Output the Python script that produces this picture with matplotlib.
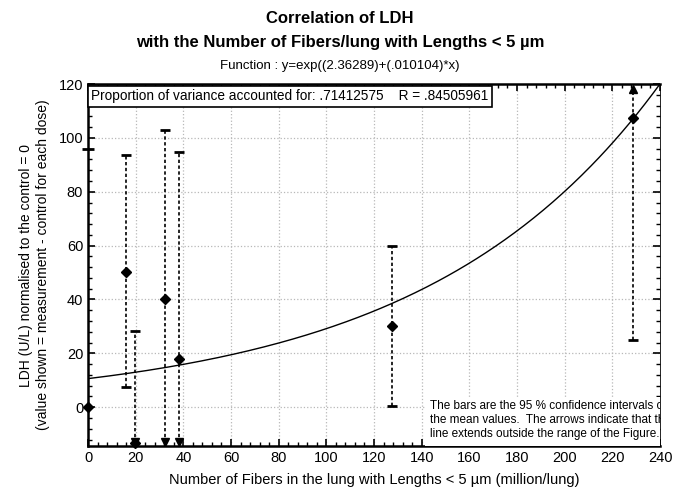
import numpy as np
import matplotlib
matplotlib.use("Agg")
import matplotlib.pyplot as plt
from matplotlib.ticker import MultipleLocator
from matplotlib.patches import Rectangle

plt.rcParams['font.family'] = ['Liberation Sans', 'DejaVu Sans']

# data
fibers = [0, 16.0, 19.9, 32.2, 38.3, 127.4, 228.6]
ldh = [0, 50.1, -13.2, 40.3, 18.0, 30.1, 107.3]
ci_low = [None, 7.4, None, None, None, 0.6, 24.8]     # None -> goes below the figure
ci_high = [96.0, 93.6, 28.4, 102.8, 94.9, 60.0, None]  # None -> goes above the figure

# fitted function y = exp(a + b*x)
fit_a = 2.36289
fit_b = 0.010104
prop_var = ".71412575"
r_val = ".84505961"

xmin, xmax = 0, 240
ymin, ymax = -14.4, 120

fig = plt.figure(figsize=(6.73, 4.96), dpi=100)
ax = fig.add_axes([0.1308, 0.1008, 0.8499, 0.7298])
ax.set_xlim(xmin, xmax)
ax.set_ylim(ymin, ymax)

# fit curve
xs = np.linspace(xmin, xmax, 300)
ax.plot(xs, np.exp(fit_a + fit_b * xs), color='black', lw=1.0, zorder=3)

# confidence bars
for x, y, lo, hi in zip(fibers, ldh, ci_low, ci_high):
    if x == 0:
        ax.plot([x], [hi], marker='_', ms=8, mew=2, color='black', clip_on=False, zorder=5)
        continue
    lo_end = lo if lo is not None else ymin + 1.2
    hi_end = hi if hi is not None else ymax - 1.5
    ax.plot([x, x], [lo_end, hi_end], color='black', lw=1.2, ls=(0, (2, 1.5)), zorder=4)
    if lo is None:
        ax.plot([x], [ymin + 1.6], marker='v', ms=6, color='black', zorder=5)
    else:
        ax.plot([x], [lo], marker='_', ms=7, mew=2, color='black', zorder=5)
    if hi is None:
        ax.plot([x], [ymax - 2.0], marker='^', ms=6, color='black', zorder=5)
    else:
        ax.plot([x], [hi], marker='_', ms=7, mew=2, color='black', zorder=5)

ax.plot(fibers, ldh, ls='none', marker='D', ms=5, color='black', zorder=6, clip_on=False)

# axes styling
ax.xaxis.set_major_locator(MultipleLocator(20))
ax.xaxis.set_minor_locator(MultipleLocator(4))
ax.yaxis.set_major_locator(MultipleLocator(20))
ax.yaxis.set_minor_locator(MultipleLocator(4))
ax.grid(True, which='major', color='#b8b8b8', ls=':', lw=0.9)
ax.tick_params(which='both', direction='in', top=True, right=True, labelsize=10.5, color='black')
ax.tick_params(which='major', length=5, width=1.2)
ax.tick_params(which='minor', length=3, width=1.0)
for s in ['left', 'bottom', 'top']:
    ax.spines[s].set_linewidth(1.8)
ax.spines['right'].set_linewidth(0.6)

# labels
ax.set_xlabel("Number of Fibers in the lung with Lengths < 5 µm (million/lung)", fontsize=10.5, labelpad=6)
ax.set_ylabel("LDH (U/L) normalised to the control = 0\n(value shown = measurement - control for each dose)",
              fontsize=10, labelpad=6, linespacing=1.3)

fig.text(0.505, 0.978, "Correlation of LDH", ha='center', va='top', fontsize=12, fontweight='bold')
fig.text(0.505, 0.930, "with the Number of Fibers/lung with Lengths < 5 µm", ha='center', va='top',
         fontsize=12, fontweight='bold')
fig.text(0.505, 0.880, "Function : y=exp((2.36289)+(.010104)*x)", ha='center', va='top', fontsize=9.5)

ax.text(0.006, 0.985, "Proportion of variance accounted for: " + prop_var + "    R = " + r_val,
        transform=ax.transAxes, ha='left', va='top', fontsize=9.8, zorder=7,
        bbox=dict(boxstyle='square,pad=0.25', fc='white', ec='black', lw=1.2))

# note box in the lower right corner
ax.add_patch(Rectangle((141.5, ymin), xmax - 141.5, 3.7 - ymin, fc='white', ec='none', zorder=6))
ax.text(143.5, 2.5, "The bars are the 95 % confidence intervals of\n"
        "the mean values.  The arrows indicate that the\n"
        "line extends outside the range of the Figure.",
        ha='left', va='top', fontsize=8.5, linespacing=1.2, zorder=7, clip_on=True)

fig.savefig("out.png", dpi=100)
